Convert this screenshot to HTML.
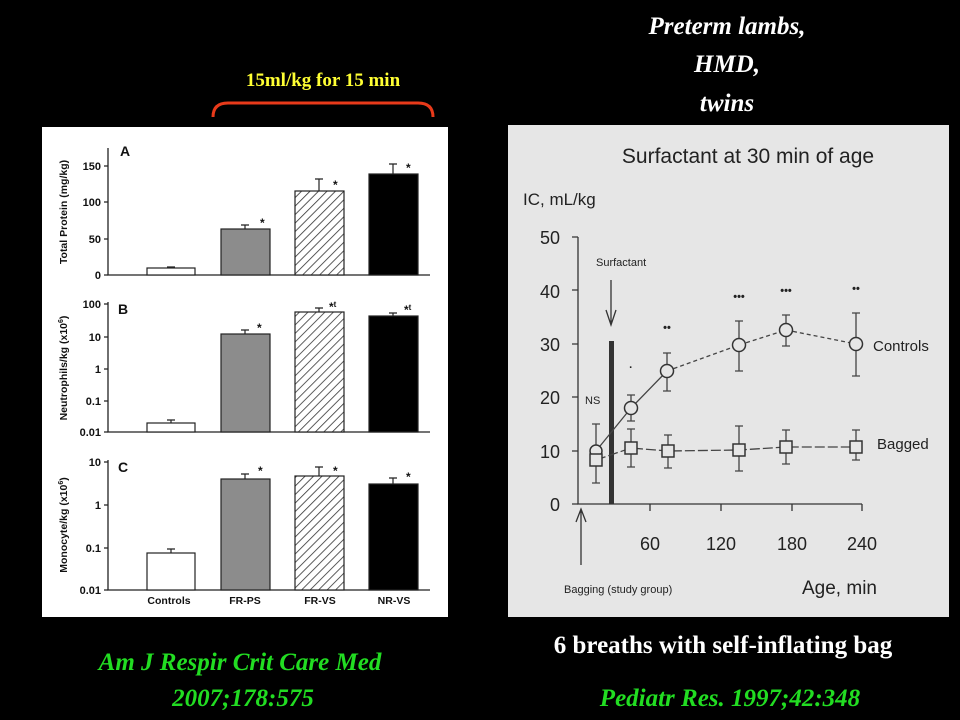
<!DOCTYPE html>
<html><head><meta charset="utf-8"><style>
html,body{margin:0;padding:0;background:#000;}
svg{display:block}
</style></head><body>
<svg width="960" height="720" viewBox="0 0 960 720" xmlns="http://www.w3.org/2000/svg">
<defs>
<pattern id="hatch" width="6" height="6" patternUnits="userSpaceOnUse" patternTransform="rotate(45)">
<rect width="6" height="6" fill="#fff"/><line x1="0" y1="0" x2="0" y2="6" stroke="#333" stroke-width="1.6"/>
</pattern>
</defs>
<rect width="960" height="720" fill="#000"/>
<!-- slide texts -->
<g font-family="Liberation Serif, serif" font-weight="bold" font-style="italic" font-size="25" fill="#fff" text-anchor="middle">
<text x="727" y="34">Preterm lambs,</text>
<text x="727" y="72">HMD,</text>
<text x="727" y="111">twins</text>
</g>
<text x="323" y="86" font-family="Liberation Serif, serif" font-weight="bold" font-size="19" fill="#ffff33" text-anchor="middle">15ml/kg for 15 min</text>
<path d="M213,117 Q213,103 228,103 L418,103 Q433,103 433,117" fill="none" stroke="#e83a1a" stroke-width="3"/>
<g font-family="Liberation Serif, serif" font-weight="bold" font-style="italic" font-size="25" fill="#22dd22" text-anchor="middle">
<text x="240" y="670">Am J Respir Crit Care Med</text>
<text x="243" y="706">2007;178:575</text>
<text x="730" y="706">Pediatr Res. 1997;42:348</text>
</g>
<text x="723" y="653" font-family="Liberation Serif, serif" font-weight="bold" font-size="25" fill="#fff" text-anchor="middle">6 breaths with self-inflating bag</text>

<!-- LEFT CHART -->
<rect x="42" y="127" width="406" height="490" fill="#fff"/>
<g font-family="Liberation Sans, sans-serif" font-weight="bold" fill="#111">
<g stroke="#222" stroke-width="1.3" fill="none">
<path d="M108,148 V275 H430"/><path d="M104,166H108M104,202H108M104,239H108M104,275H108"/>
<path d="M108,302 V432 H430"/><path d="M104,304H108M104,337H108M104,369H108M104,401H108M104,432H108"/>
<path d="M108,460 V590 H430"/><path d="M104,462H108M104,505H108M104,548H108M104,590H108"/>
</g>
<g font-size="11" text-anchor="end">
<text x="101" y="170">150</text><text x="101" y="206">100</text><text x="101" y="243">50</text><text x="101" y="279">0</text>
<text x="101" y="308">100</text><text x="101" y="341">10</text><text x="101" y="373">1</text><text x="101" y="405">0.1</text><text x="101" y="436">0.01</text>
<text x="101" y="466">10</text><text x="101" y="509">1</text><text x="101" y="552">0.1</text><text x="101" y="594">0.01</text>
</g>
<g font-size="14"><text x="120" y="156">A</text><text x="118" y="314">B</text><text x="118" y="472">C</text></g>
<g font-size="10.5" text-anchor="middle">
<text transform="translate(67,212) rotate(-90)">Total Protein (mg/kg)</text>
<text transform="translate(67,368) rotate(-90)">Neutrophils/kg (x10<tspan font-size="7" dy="-4">6</tspan><tspan dy="4">)</tspan></text>
<text transform="translate(67,525) rotate(-90)">Monocyte/kg (x10<tspan font-size="7" dy="-4">6</tspan><tspan dy="4">)</tspan></text>
</g>
<g font-size="10.5" text-anchor="middle">
<text x="169" y="604">Controls</text><text x="245" y="604">FR-PS</text><text x="320" y="604">FR-VS</text><text x="394" y="604">NR-VS</text>
</g>
<g stroke="#222" stroke-width="1.2">
<!-- A -->
<rect x="147" y="268" width="48" height="7" fill="#fff"/>
<rect x="221" y="229" width="49" height="46" fill="#8c8c8c"/>
<rect x="295" y="191" width="49" height="84" fill="url(#hatch)"/>
<rect x="369" y="174" width="49" height="101" fill="#000"/>
<!-- B -->
<rect x="147" y="423" width="48" height="9" fill="#fff"/>
<rect x="221" y="334" width="49" height="98" fill="#8c8c8c"/>
<rect x="295" y="312" width="49" height="120" fill="url(#hatch)"/>
<rect x="369" y="316" width="49" height="116" fill="#000"/>
<!-- C -->
<rect x="147" y="553" width="48" height="37" fill="#fff"/>
<rect x="221" y="479" width="49" height="111" fill="#8c8c8c"/>
<rect x="295" y="476" width="49" height="114" fill="url(#hatch)"/>
<rect x="369" y="484" width="49" height="106" fill="#000"/>
<path fill="none" d="M171,268V267M167,267H175 M245,229V225M241,225H249 M319,191V179M315,179H323 M393,174V164M389,164H397
M171,423V420M167,420H175 M245,334V330M241,330H249 M319,312V308M315,308H323 M393,316V313M389,313H397
M171,553V549M167,549H175 M245,479V474M241,474H249 M319,476V467M315,467H323 M393,484V478M389,478H397"/>
</g>
<g font-size="12">
<text x="260" y="227">*</text><text x="333" y="189">*</text><text x="406" y="172">*</text>
<text x="257" y="332">*</text><text x="329" y="311">*<tspan font-size="8" dy="-4">t</tspan></text><text x="404" y="314">*<tspan font-size="8" dy="-4">t</tspan></text>
<text x="258" y="475">*</text><text x="333" y="475">*</text><text x="406" y="481">*</text>
</g>
</g>

<!-- RIGHT CHART -->
<rect x="508" y="125" width="441" height="492" fill="#e6e6e6"/>
<g font-family="Liberation Sans, sans-serif" fill="#222">
<text x="748" y="163" font-size="21" text-anchor="middle">Surfactant at 30 min of age</text>
<text x="523" y="205" font-size="17">IC, mL/kg</text>
<g font-size="18" text-anchor="end">
<text x="560" y="244">50</text><text x="560" y="298">40</text><text x="560" y="351">30</text><text x="560" y="404">20</text><text x="560" y="458">10</text><text x="560" y="511">0</text>
</g>
<g font-size="18" text-anchor="middle">
<text x="650" y="550">60</text><text x="721" y="550">120</text><text x="792" y="550">180</text><text x="862" y="550">240</text>
</g>
<text x="596" y="266" font-size="11">Surfactant</text>
<text x="585" y="404" font-size="11">NS</text>
<text x="873" y="351" font-size="15">Controls</text>
<text x="877" y="449" font-size="15">Bagged</text>
<text x="564" y="593" font-size="11">Bagging (study group)</text>
<text x="802" y="594" font-size="19">Age, min</text>
<g stroke="#333" stroke-width="1.3" fill="none">
<path d="M578,237V504H862"/>
<path d="M572,237H578M572,290H578M572,344H578M572,397H578M572,451H578M572,504H578"/>
<path d="M650,504V511M721,504V511M792,504V511M862,504V511"/>
<path d="M611,280V325M606,310L611,325L616,310"/>
<path d="M581,565V509M576,522L581,509L586,522"/>
</g>
<rect x="609" y="341" width="5" height="163" fill="#333"/>
<g stroke="#444" stroke-width="1.3" fill="none">
<path d="M596,451L631,408L667,371" />
<path d="M667,371L739,345L786,330L856,344" stroke-dasharray="4,3"/>
<path d="M596,460L631,448L668,451L739,450L786,447L856,447" stroke-dasharray="10,3"/>
<!-- error bars controls -->
<path d="M631,421V395M627,421H635M627,395H635 M667,391V353M663,391H671M663,353H671 M739,371V321M735,371H743M735,321H743 M786,346V315M782,346H790M782,315H790 M856,376V313M852,376H860M852,313H860"/>
<!-- error bars bagged -->
<path d="M596,483V424M592,483H600M592,424H600 M631,467V429M627,467H635M627,429H635 M668,468V435M664,468H672M664,435H672 M739,471V426M735,471H743M735,426H743 M786,464V430M782,464H790M782,430H790 M856,460V430M852,460H860M852,430H860"/>
</g>
<g stroke="#333" stroke-width="1.5" fill="#e6e6e6">
<circle cx="596" cy="451" r="6"/><circle cx="631" cy="408" r="6.5"/><circle cx="667" cy="371" r="6.5"/><circle cx="739" cy="345" r="6.5"/><circle cx="786" cy="330" r="6.5"/><circle cx="856" cy="344" r="6.5"/>
<rect x="590" y="454" width="12" height="12"/><rect x="625" y="442" width="12" height="12"/><rect x="662" y="445" width="12" height="12"/><rect x="733" y="444" width="12" height="12"/><rect x="780" y="441" width="12" height="12"/><rect x="850" y="441" width="12" height="12"/>
</g>
<g font-size="11" font-weight="bold" text-anchor="middle">
<text x="631" y="371">·</text><text x="667" y="331">••</text><text x="739" y="300">•••</text><text x="786" y="294">•••</text><text x="856" y="292">••</text>
</g>
</g>
</svg>
</body></html>
